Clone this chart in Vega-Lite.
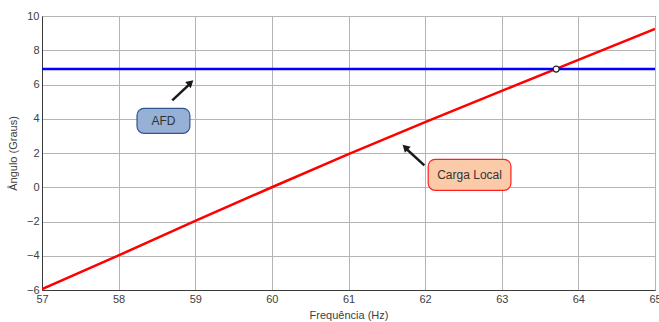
{
  "$schema": "https://vega.github.io/schema/vega-lite/v6.json",
  "width": 613,
  "height": 274,
  "autosize": {"type": "none"},
  "padding": {"left": 42, "top": 16, "right": 4, "bottom": 32},
  "background": "white",
  "config": {
    "font": "Liberation Sans",
    "view": {"stroke": "#3a3a3a", "strokeWidth": 1},
    "axis": {
      "labelFont": "Liberation Sans",
      "titleFont": "Liberation Sans",
      "labelFontSize": 11,
      "titleFontSize": 11,
      "titleFontWeight": "normal",
      "labelColor": "#404040",
      "titleColor": "#404040",
      "gridColor": "#b4b4b4",
      "gridOpacity": 1,
      "gridWidth": 1,
      "domainColor": "#3a3a3a",
      "tickColor": "#3a3a3a"
    }
  },
  "encoding": {
    "x": {
      "field": "f", "type": "quantitative",
      "scale": {"domain": [57, 65], "nice": false, "zero": false},
      "axis": {"title": "Frequência (Hz)", "values": [57,58,59,60,61,62,63,64,65], "format": "d", "labelOverlap": false, "labelFlush": false, "labelPadding": 3, "titlePadding": 5, "tickSize": 0}
    },
    "y": {
      "field": "v", "type": "quantitative",
      "scale": {"domain": [-6, 10], "nice": false, "zero": false},
      "axis": {"title": "Ângulo (Graus)", "values": [-6,-4,-2,0,2,4,6,8,10], "format": "d", "labelOverlap": false, "labelFlush": false, "labelPadding": 3, "titlePadding": 8, "tickSize": 0}
    }
  },
  "layer": [
    {
      "data": {"values": [
        {"f": 57, "v": -5.95, "s": "Carga Local"},
        {"f": 58, "v": -3.98, "s": "Carga Local"},
        {"f": 59, "v": -1.96, "s": "Carga Local"},
        {"f": 60, "v": 0.0, "s": "Carga Local"},
        {"f": 61, "v": 1.93, "s": "Carga Local"},
        {"f": 62, "v": 3.8, "s": "Carga Local"},
        {"f": 63, "v": 5.63, "s": "Carga Local"},
        {"f": 64, "v": 7.44, "s": "Carga Local"},
        {"f": 65, "v": 9.24, "s": "Carga Local"},
        {"f": 57, "v": 6.9, "s": "AFD"},
        {"f": 65, "v": 6.9, "s": "AFD"}
      ]},
      "mark": {"type": "line", "strokeWidth": 2.5, "clip": true},
      "encoding": {
        "color": {
          "field": "s", "type": "nominal",
          "scale": {"domain": ["Carga Local", "AFD"], "range": ["#ff0000", "#0000ff"]},
          "legend": null
        },
        "detail": {"field": "s"}
      }
    },
    {
      "data": {"values": [{"f": 63.71, "v": 6.9}]},
      "mark": {"type": "point", "filled": true, "fill": "white", "stroke": "#222222", "strokeWidth": 1.2, "size": 36, "opacity": 1},
      "encoding": {}
    },
    {
      "data": {"values": [{"f": 58.24, "f2": 58.93, "v": 4.61, "v2": 3.15}]},
      "mark": {"type": "rect", "fill": "#97b1d6", "stroke": "#2f5592", "strokeWidth": 1.2, "cornerRadius": 7},
      "encoding": {
        "x2": {"field": "f2"},
        "y2": {"field": "v2"}
      }
    },
    {
      "data": {"values": [{"f": 62.04, "f2": 63.12, "v": 1.63, "v2": -0.18}]},
      "mark": {"type": "rect", "fill": "#fbcaa9", "stroke": "#ff2020", "strokeWidth": 1.2, "cornerRadius": 7},
      "encoding": {
        "x2": {"field": "f2"},
        "y2": {"field": "v2"}
      }
    },
    {
      "data": {"values": [
        {"f": 58.585, "v": 3.88, "t": "AFD"},
        {"f": 62.58, "v": 0.73, "t": "Carga Local"}
      ]},
      "mark": {"type": "text", "fontSize": 12, "color": "#333333", "align": "center", "baseline": "middle"},
      "encoding": {
        "text": {"field": "t"}
      }
    },
    {
      "data": {"values": [
        {"f": 58.70, "v": 5.07, "f2": 58.92, "v2": 5.99},
        {"f": 61.99, "v": 1.28, "f2": 61.76, "v2": 2.22}
      ]},
      "mark": {"type": "rule", "color": "#1a1a1a", "strokeWidth": 2.5},
      "encoding": {
        "x2": {"field": "f2"},
        "y2": {"field": "v2"}
      }
    },
    {
      "data": {"values": [{"f": 58.94, "v": 6.1}]},
      "mark": {"type": "point", "shape": "triangle-up", "filled": true, "color": "#1a1a1a", "size": 70, "angle": 48, "opacity": 1},
      "encoding": {}
    },
    {
      "data": {"values": [{"f": 61.74, "v": 2.33}]},
      "mark": {"type": "point", "shape": "triangle-up", "filled": true, "color": "#1a1a1a", "size": 70, "angle": 314, "opacity": 1},
      "encoding": {}
    }
  ]
}
